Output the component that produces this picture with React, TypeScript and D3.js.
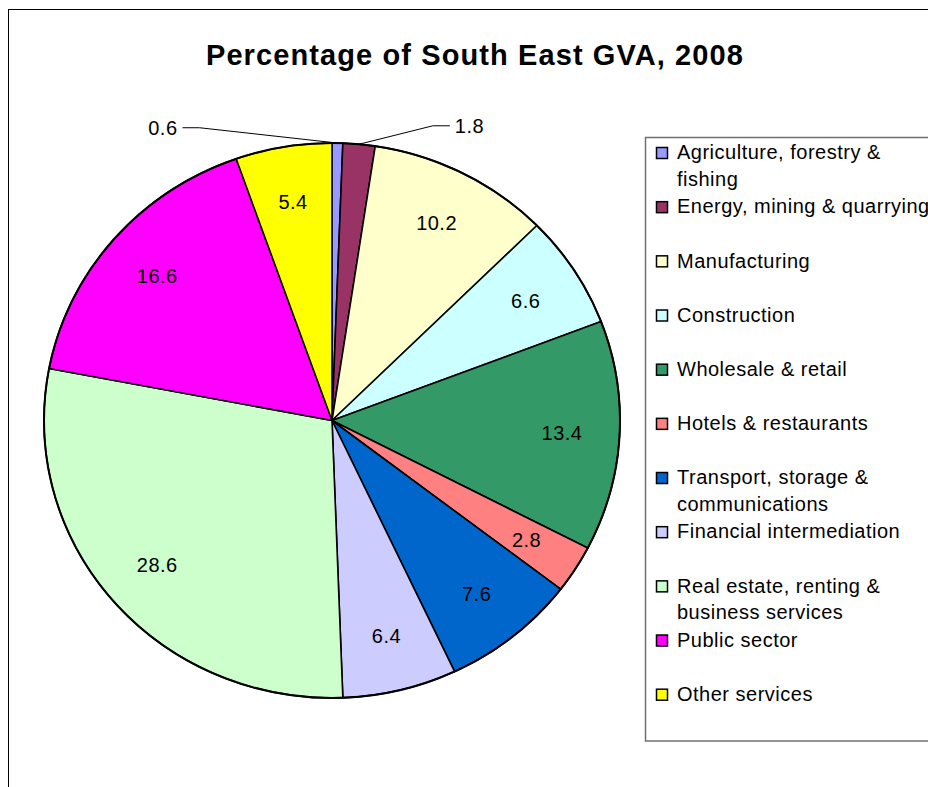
import React from "react";
import * as d3 from "d3";

const title = "Percentage of South East GVA, 2008";
const categories = [
  "Agriculture, forestry & fishing",
  "Energy, mining & quarrying",
  "Manufacturing",
  "Construction",
  "Wholesale & retail",
  "Hotels & restaurants",
  "Transport, storage & communications",
  "Financial intermediation",
  "Real estate, renting & business services",
  "Public sector",
  "Other services",
];
const legendLines = [
  ["Agriculture, forestry &", "fishing"],
  ["Energy, mining & quarrying"],
  ["Manufacturing"],
  ["Construction"],
  ["Wholesale & retail"],
  ["Hotels & restaurants"],
  ["Transport, storage &", "communications"],
  ["Financial intermediation"],
  ["Real estate, renting &", "business services"],
  ["Public sector"],
  ["Other services"],
];
const values = [0.6, 1.8, 10.2, 6.6, 13.4, 2.8, 7.6, 6.4, 28.6, 16.6, 5.4];
const colors = [
  "#9999FF", "#993366", "#FFFFCC", "#CCFFFF", "#339966", "#FF8080",
  "#0066CC", "#CCCCFF", "#CCFFCC", "#FF00FF", "#FFFF00",
];

const FONT = "'Liberation Sans', Arial, Helvetica, sans-serif";

export default function App() {
  const W = 928, H = 787;
  const cx = 332, cy = 420.5, rx = 288, ry = 277.5;
  const fs = 20;

  const data = categories.map((c, i) => ({ c, v: values[i], col: colors[i] }));
  const pie = d3.pie<any>().value((d) => d.v).sort(null).startAngle(0).endAngle(2 * Math.PI);
  const arcs = pie(data);
  const arc = d3.arc<any>().innerRadius(0).outerRadius(rx);

  const color = d3.scaleOrdinal<string, string>().domain(categories).range(colors);
  const legendY = d3.scaleLinear().domain([0, categories.length - 1]).range([152, 693.7]);

  const pt = (a: number, f: number) => [cx + f * rx * Math.sin(a), cy - f * ry * Math.cos(a)];

  return (
    <svg width={W} height={H} style={{ position: "absolute", left: 0, top: 0, background: "#fff" }} fontFamily={FONT}>
      <rect x={0} y={0} width={W} height={H} fill="#fff" />
      <rect x={8.5} y={9.5} width={1000} height={1000} fill="#fff" stroke="#000" strokeWidth={1} />
      <text x={475} y={65} textAnchor="middle" fontSize={29} fontWeight="bold" letterSpacing={1.1} fill="#000">
        {title}
      </text>

      <g transform={`translate(${cx},${cy}) scale(1,${ry / rx})`}>
        {arcs.map((a, i) => (
          <path key={i} d={arc(a) as string} fill={color(a.data.c)} stroke="#000" strokeWidth={1.6} vectorEffect="non-scaling-stroke" strokeLinejoin="round" />
        ))}
        <ellipse cx={0} cy={0} rx={rx} ry={rx} fill="none" stroke="#000" strokeWidth={2} vectorEffect="non-scaling-stroke" />
      </g>

      {arcs.map((a, i) => {
        const mid = (a.startAngle + a.endAngle) / 2;
        const v = a.data.v;
        if (v < 2) {
          const [ox, oy] = pt(mid, 1.0);
          const left = mid < 0.05;
          const ex = cx + (left ? -0.46 : 0.35) * rx;
          const ey = cy - (left ? 1.055 : 1.062) * ry;
          const tx = left ? ex - 17 : ex + 17;
          return (
            <g key={"l" + i}>
              <polyline points={`${ox},${oy} ${ex},${ey} ${tx},${ey}`} fill="none" stroke="#000" strokeWidth={1} />
              <text x={left ? tx - 5 : tx + 5} y={ey + 0.36 * fs} textAnchor={left ? "end" : "start"} fontSize={fs} letterSpacing={0.5} fill="#000">
                {v.toFixed(1)}
              </text>
            </g>
          );
        }
        const [lx, ly] = pt(mid, 0.8);
        return (
          <text key={"l" + i} x={lx} y={ly + 0.36 * fs} textAnchor="middle" fontSize={fs} letterSpacing={0.5} fill="#000">
            {v.toFixed(1)}
          </text>
        );
      })}

      <rect x={645.5} y={137.5} width={400} height={603.5} fill="#fff" stroke="#707070" strokeWidth={1.5} />
      {categories.map((c, i) => {
        const yc = legendY(i);
        return (
          <g key={"g" + i}>
            <rect x={656.5} y={yc - 4.5} width={11} height={11} fill={color(c)} stroke="#000" strokeWidth={1.5} />
            <text x={677} y={yc + 0.36 * fs} fontSize={fs} letterSpacing={0.5} fill="#000">
              {legendLines[i].map((ln, j) => (
                <tspan key={j} x={677} dy={j === 0 ? 0 : 26.5}>{ln}</tspan>
              ))}
            </text>
          </g>
        );
      })}
    </svg>
  );
}
